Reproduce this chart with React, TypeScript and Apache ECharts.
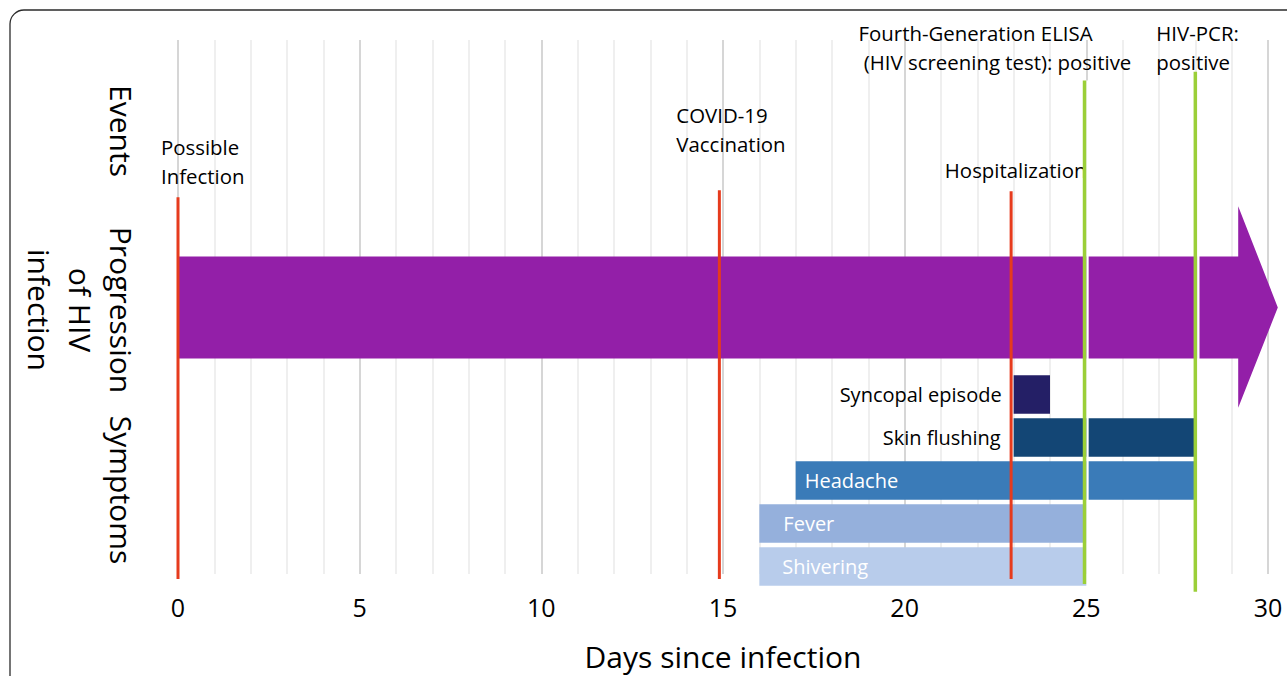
import React, { useEffect, useRef } from "react";
import * as echarts from "echarts";

// ---------- data ----------
const X_MIN = 0;
const X_MAX = 30;
const X_STEP = 5;
const X_TITLE = "Days since infection";

const LANE_TITLES = ["Events", "Progression\nof HIV\ninfection", "Symptoms"];

const EVENT_DAYS = [0, 14.9, 22.93, 24.95, 28];
const EVENT_LABELS = [
  "Possible\nInfection",
  "COVID-19\nVaccination",
  "Hospitalization",
  "Fourth-Generation ELISA\n (HIV screening test): positive",
  "HIV-PCR:\npositive",
];
const EVENT_KIND = ["clinical", "clinical", "clinical", "test", "test"];

const PROGRESSION_START = 0;
const PROGRESSION_BODY_END = 29.18;
const PROGRESSION_TIP = 30.27;

const SYMPTOMS = ["Syncopal episode", "Skin flushing", "Headache", "Fever", "Shivering"];
const SYMPTOM_START = [23, 23, 17, 16, 16];
const SYMPTOM_END = [24, 28, 28, 25, 25];

// ---------- layout & style ----------
const FONT = '"Open Sans", sans-serif';
const RED = "#E63B1D";
const GREEN = "#9BCF38";
const PURPLE = "#931FA8";
const SYMPTOM_COLORS = ["#241F66", "#134675", "#3A7BB8", "#95B0DC", "#B8CCEB"];

// y axis is a hidden lane axis (0 at top, 540 at bottom of plot)
const LANE_POS = [
  [121, 131],
  [80, 310],
  [121, 490],
];
const EVENT_LAYOUT = [
  { top: 159, bottom: 545, dx: -17, labelY: 122.5, align: "left", width: 3 },
  { top: 152, bottom: 545, dx: -43, labelY: 90.5, align: "left", width: 3 },
  { top: 153, bottom: 545, dx: 4.5, labelY: 131, align: "center", width: 3 },
  { top: 41, bottom: 550, dx: -226, labelY: 7.5, align: "left", width: 3.5 },
  { top: 32, bottom: 558, dx: -39, labelY: 7.5, align: "left", width: 3.5 },
];
const ARROW_BODY = [219, 322];
const ARROW_HEAD = [168, 372];
const ARROW_TIP_Y = 270.5;

const ROW_Y = [358.5, 402, 445.5, 489, 532.5];
const BAR_H = 39;
const SYMPTOM_LABEL = [
  { inside: false, dx: -12 },
  { inside: false, dx: -13 },
  { inside: true, dx: 9 },
  { inside: true, dx: 24 },
  { inside: true, dx: 23 },
];

function buildOption(): any {
  return {
    animation: false,
    backgroundColor: "#ffffff",
    grid: { left: 178, right: 19, top: 40, bottom: 96, containLabel: false },
    xAxis: {
      type: "value",
      min: X_MIN,
      max: X_MAX,
      interval: X_STEP,
      name: X_TITLE,
      nameLocation: "middle",
      nameGap: 67,
      nameTextStyle: { fontSize: 30, fontFamily: FONT, color: "#000" },
      axisLine: { show: false },
      axisTick: { show: false },
      axisLabel: { fontSize: 25, fontFamily: FONT, color: "#000", margin: 20 },
      splitLine: { show: true, lineStyle: { color: "#d6d6d6", width: 2 } },
      minorTick: { show: false, splitNumber: 5 },
      minorSplitLine: { show: true, lineStyle: { color: "#efefef", width: 2 } },
    },
    yAxis: {
      type: "value",
      min: 0,
      max: 540,
      inverse: true,
      show: false,
      splitLine: { show: false },
    },
    graphic: [
      {
        type: "rect",
        silent: true,
        z: -10,
        shape: { x: 10, y: 10, width: 1330, height: 730, r: 14 },
        style: { fill: "none", stroke: "#2b2b2b", lineWidth: 1.3 },
      },
      ...LANE_TITLES.map((t, i) => ({
        type: "text",
        x: LANE_POS[i][0],
        y: LANE_POS[i][1],
        rotation: -Math.PI / 2,
        silent: true,
        style: {
          text: t,
          font: `30px ${FONT}`,
          fill: "#000",
          align: "center",
          textAlign: "center",
          verticalAlign: "middle",
          textVerticalAlign: "middle",
          lineHeight: 41,
        },
      })),
    ],
    series: [
      {
        type: "custom",
        name: "Progression of HIV infection",
        clip: false,
        z: 2,
        encode: { x: [0, 1, 2] },
        data: [[PROGRESSION_START, PROGRESSION_BODY_END, PROGRESSION_TIP]],
        renderItem: (params: any, api: any) => {
          const xs = api.coord([api.value(0), ARROW_BODY[0]])[0];
          const xh = api.coord([api.value(1), ARROW_BODY[0]])[0];
          const xt = api.coord([api.value(2), ARROW_TIP_Y])[0];
          const yb0 = api.coord([0, ARROW_BODY[0]])[1];
          const yb1 = api.coord([0, ARROW_BODY[1]])[1];
          const yh0 = api.coord([0, ARROW_HEAD[0]])[1];
          const yh1 = api.coord([0, ARROW_HEAD[1]])[1];
          const yt = api.coord([0, ARROW_TIP_Y])[1];
          return {
            type: "polygon",
            shape: {
              points: [
                [xs, yb0],
                [xh, yb0],
                [xh, yh0],
                [xt, yt],
                [xh, yh1],
                [xh, yb1],
                [xs, yb1],
              ],
            },
            style: { fill: PURPLE },
          };
        },
      },
      {
        type: "custom",
        name: "Symptoms",
        clip: false,
        z: 3,
        encode: { x: [0, 1], y: 2 },
        data: SYMPTOMS.map((n, i) => ({ name: n, value: [SYMPTOM_START[i], SYMPTOM_END[i], i] })),
        renderItem: (params: any, api: any) => {
          const i = api.value(2);
          const p0 = api.coord([api.value(0), ROW_Y[i]]);
          const p1 = api.coord([api.value(1), ROW_Y[i]]);
          const h = api.size([0, BAR_H])[1];
          const lab = SYMPTOM_LABEL[i];
          return {
            type: "group",
            children: [
              {
                type: "rect",
                shape: { x: p0[0], y: p0[1] - h / 2, width: p1[0] - p0[0], height: h },
                style: { fill: SYMPTOM_COLORS[i] },
              },
              {
                type: "text",
                x: p0[0] + lab.dx,
                y: p0[1],
                style: {
                  text: SYMPTOMS[i],
                  font: `20px ${FONT}`,
                  fill: lab.inside ? "#ffffff" : "#000000",
                  align: lab.inside ? "left" : "right",
                  textAlign: lab.inside ? "left" : "right",
                  verticalAlign: "middle",
                  textVerticalAlign: "middle",
                },
              },
            ],
          };
        },
      },
      {
        type: "custom",
        name: "Events",
        clip: false,
        z: 4,
        encode: { x: 0 },
        data: EVENT_DAYS.map((d, i) => [d, i]),
        renderItem: (params: any, api: any) => {
          const i = api.value(1);
          const L = EVENT_LAYOUT[i];
          const d = api.value(0);
          const top = api.coord([d, L.top]);
          const bot = api.coord([d, L.bottom]);
          const lab = api.coord([d, L.labelY]);
          const isTest = EVENT_KIND[i] === "test";
          const color = isTest ? GREEN : RED;
          const children: any[] = [
            {
              type: "text",
              x: lab[0] + L.dx,
              y: lab[1],
              style: {
                text: EVENT_LABELS[i],
                font: `20.4px ${FONT}`,
                fill: "#000",
                align: L.align,
                textAlign: L.align,
                verticalAlign: "middle",
                textVerticalAlign: "middle",
                lineHeight: 29,
              },
            },
          ];
          if (isTest) {
            const off = L.width / 2 + 1.2;
            children.push({
              type: "line",
              shape: { x1: top[0] + off, y1: top[1], x2: bot[0] + off, y2: bot[1] },
              style: { stroke: "#ffffff", lineWidth: 2.4 },
            });
          }
          children.push({
            type: "line",
            shape: { x1: top[0], y1: top[1], x2: bot[0], y2: bot[1] },
            style: { stroke: color, lineWidth: L.width },
          });
          return { type: "group", children };
        },
      },
    ],
  };
}

export default function App() {
  const ref = useRef<HTMLDivElement>(null);
  useEffect(() => {
    if (!ref.current) return;
    const chart = echarts.init(ref.current, null, { renderer: "svg" });
    chart.setOption(buildOption());
    return () => chart.dispose();
  }, []);
  return (
    <div
      ref={ref}
      style={{ position: "fixed", left: 0, top: 0, width: 1287, height: 676, background: "#fff" }}
    />
  );
}
